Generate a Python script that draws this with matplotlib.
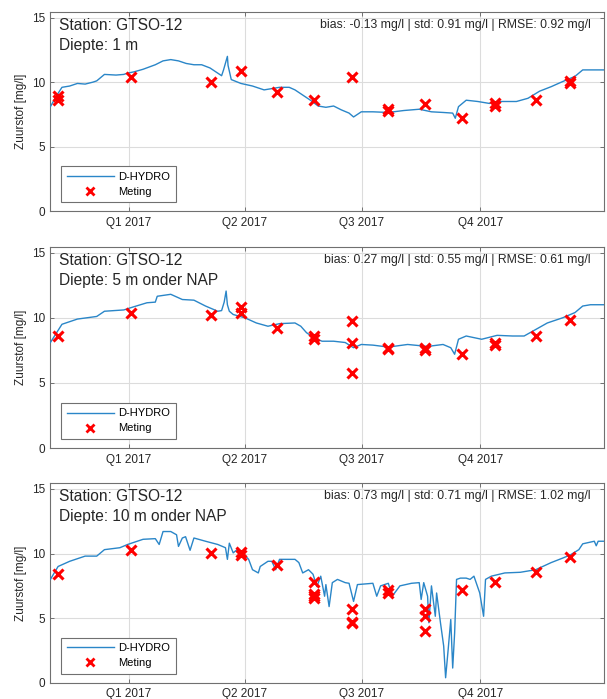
import datetime as dt
import matplotlib
matplotlib.use("Agg")
import matplotlib.pyplot as plt
from matplotlib.lines import Line2D

plt.rcParams['font.family'] = ['Liberation Sans', 'DejaVu Sans']

# ---------------- data ----------------
base_date = "2016-11-01"   # model time axis: days since this date

# Panel 1 (1 m)
days1 = [0, 4.5, 9, 15, 21, 27, 33, 36, 42, 51, 57, 60, 65, 72, 81.5, 87.5, 93.5, 99.5,
         105.5, 111.5, 117.5, 124, 130, 133, 134.5, 137.5, 138, 140.5, 148, 157, 166, 172,
         178, 185.5, 190, 196, 202, 208, 214, 220, 226, 232, 235.5, 241.5, 250.5, 262.5,
         274.5, 286.5, 296, 305, 312.5, 314.5, 317, 323, 332, 341, 347, 353, 362, 371, 380,
         389, 398, 407.5, 413.5, 422.5, 430]
model1 = [8.1, 8.9, 9.6, 9.7, 9.9, 9.85, 10.0, 10.1, 10.6, 10.55, 10.6, 10.7, 10.8, 11.0,
          11.35, 11.65, 11.75, 11.65, 11.45, 11.35, 11.35, 11.1, 10.7, 10.5, 10.95, 12.0,
          11.3, 10.2, 9.9, 9.7, 9.4, 9.5, 9.6, 9.6, 9.4, 9.0, 8.6, 8.15, 8.05, 8.15, 7.85,
          7.6, 7.3, 7.7, 7.7, 7.65, 7.8, 7.9, 7.7, 7.65, 7.6, 7.2, 8.1, 8.6, 8.5, 8.35, 8.5,
          8.5, 8.5, 8.75, 9.3, 9.65, 10.05, 10.45, 10.95, 10.95, 10.95]

# Panel 2 (5 m onder NAP)
days2 = [0, 9, 21, 36, 42, 57, 65, 75, 81.5, 83, 93.5, 102.5, 111.5, 120.5, 130, 133, 135,
         136.5, 137.5, 139, 142, 151, 160, 169, 178, 190, 194.5, 199, 205, 211, 220, 229,
         235.5, 241.5, 250.5, 262.5, 277.5, 293, 305, 311, 314, 317, 323, 335, 347, 359,
         368, 377, 386, 398, 407.5, 413.5, 419.5, 430]
model2 = [8.1, 9.5, 9.9, 10.1, 10.5, 10.6, 10.85, 11.15, 11.2, 11.65, 11.8, 11.4, 11.35,
          10.9, 10.5, 10.55, 11.2, 12.05, 11.0, 10.5, 10.25, 10.0, 9.6, 9.35, 9.55, 9.6,
          9.35, 8.85, 8.45, 8.2, 8.2, 8.1, 7.7, 7.95, 7.9, 7.75, 7.95, 7.8, 7.95, 7.7, 7.2,
          8.35, 8.6, 8.35, 8.65, 8.6, 8.6, 9.1, 9.6, 10.0, 10.4, 10.9, 11.0, 11.0]

# Panel 3 (10 m onder NAP)
days3 = [0, 6, 15, 27, 36, 42, 54, 60, 63, 72, 81.5, 84.5, 87.5, 93.5, 98, 99.5, 102.5,
         105, 108.5, 111.5, 120.5, 130, 136, 137.5, 139, 142, 145, 148, 154, 157, 161.5,
         163, 169, 172, 175, 178, 190, 193, 196, 200.5, 204, 207, 210, 213, 214, 216.5,
         219, 223, 229, 232, 235.5, 238.5, 250.5, 253.5, 256.5, 262.5, 265.5, 271.5, 280.5,
         286.5, 288, 290, 293, 294, 296, 299, 300, 303, 305.5, 307, 309, 311, 312.5, 314,
         315.5, 318.5, 323, 326, 329, 333.5, 336.5, 338, 342.5, 353, 365, 377, 389, 398,
         404, 410.5, 413.5, 422.5, 424, 425.5, 430]
model3 = [8.0, 9.0, 9.4, 9.8, 9.8, 10.3, 10.45, 10.7, 10.8, 11.1, 11.15, 10.7, 11.7, 11.7,
          11.45, 10.55, 11.2, 11.3, 10.25, 11.2, 10.95, 10.7, 10.45, 9.55, 10.8, 10.05,
          10.3, 10.2, 9.55, 8.75, 8.5, 9.0, 9.4, 9.4, 8.75, 9.55, 9.55, 9.3, 8.5, 8.75,
          8.4, 7.45, 8.25, 6.7, 7.6, 5.9, 7.75, 8.0, 7.75, 7.7, 6.3, 7.6, 7.7, 6.7, 7.5,
          7.7, 6.7, 7.5, 7.7, 7.75, 6.45, 7.75, 6.7, 4.65, 7.5, 5.15, 6.95, 4.65, 2.85,
          0.4, 2.6, 4.9, 1.15, 3.85, 8.0, 8.1, 8.1, 8.0, 8.25, 6.95, 5.15, 8.0, 8.25, 8.5,
          8.55, 8.75, 9.3, 9.65, 9.9, 10.3, 10.75, 10.95, 10.6, 10.95, 10.95]

# Measurements (Meting)
meas_dates1 = ["2016-11-07", "2016-11-07", "2017-01-03", "2017-03-06", "2017-03-29",
               "2017-04-26", "2017-05-25", "2017-06-23", "2017-07-21", "2017-07-21",
               "2017-08-19", "2017-09-17", "2017-10-12", "2017-10-12", "2017-11-13",
               "2017-12-10", "2017-12-10"]
meas1 = [8.6, 8.9, 10.4, 10.05, 10.9, 9.2, 8.6, 10.4, 7.8, 7.9, 8.3, 7.25, 8.15, 8.35,
         8.6, 9.9, 10.1]

meas_dates2 = ["2016-11-07", "2017-01-03", "2017-03-06", "2017-03-29", "2017-03-29",
               "2017-04-26", "2017-05-25", "2017-05-25", "2017-06-23", "2017-06-23",
               "2017-06-23", "2017-07-21", "2017-07-21", "2017-08-19", "2017-08-19",
               "2017-09-17", "2017-10-12", "2017-10-12", "2017-11-13", "2017-12-10"]
meas2 = [8.6, 10.35, 10.2, 10.85, 10.4, 9.2, 8.6, 8.35, 9.75, 8.1, 5.75, 7.7, 7.6, 7.7,
         7.55, 7.25, 8.1, 7.9, 8.6, 9.8]

meas_dates3 = ["2016-11-07", "2017-01-03", "2017-03-06", "2017-03-29", "2017-03-29",
               "2017-04-26", "2017-05-25", "2017-05-25", "2017-05-25", "2017-05-25",
               "2017-06-23", "2017-06-23", "2017-06-23", "2017-07-21", "2017-07-21",
               "2017-08-19", "2017-08-19", "2017-08-19", "2017-09-17", "2017-10-12",
               "2017-11-13", "2017-12-10"]
meas3 = [8.4, 10.25, 10.05, 10.1, 9.9, 9.15, 7.8, 6.9, 6.7, 6.55, 5.75, 4.7, 4.6, 7.2,
         6.95, 5.7, 5.2, 4.0, 7.15, 7.8, 8.55, 9.75]

depth_labels = ["Diepte: 1 m", "Diepte: 5 m onder NAP", "Diepte: 10 m onder NAP"]
stats_labels = ["bias: -0.13 mg/l | std: 0.91 mg/l | RMSE: 0.92 mg/l",
                "bias: 0.27 mg/l | std: 0.55 mg/l | RMSE: 0.61 mg/l",
                "bias: 0.73 mg/l | std: 0.71 mg/l | RMSE: 1.02 mg/l"]
station_label = "Station: GTSO-12"
tick_dates = ["2017-01-01", "2017-04-01", "2017-07-01", "2017-10-01"]
tick_labels = ["Q1 2017", "Q2 2017", "Q3 2017", "Q4 2017"]
y_ticks = [0, 5, 10, 15]
ylabel = "Zuurstof [mg/l]"
legend_labels = ["D-HYDRO", "Meting"]
xlim_dates = ["2016-11-01", "2018-01-05"]
ylim = (0, 15.45)

# ---------------- plotting ----------------
def to_dt(s):
    return dt.datetime.strptime(s, "%Y-%m-%d")

b0 = to_dt(base_date)
line_color = "#2a86c8"
grid_color = "#dcdcdc"
edge_color = "#707070"
text_color = "#262626"

fig = plt.figure(figsize=(6.07, 6.99), dpi=100)
positions = [(0.083, 0.698, 0.912, 0.285),
             (0.083, 0.359, 0.912, 0.288),
             (0.083, 0.023, 0.912, 0.286)]

all_days = [days1, days2, days3]
all_model = [model1, model2, model3]
all_mdates = [meas_dates1, meas_dates2, meas_dates3]
all_meas = [meas1, meas2, meas3]

for i in range(3):
    ax = fig.add_axes(positions[i])
    x = [b0 + dt.timedelta(days=d) for d in all_days[i]]
    ax.plot(x, all_model[i], color=line_color, lw=1.0, zorder=3)
    mx = [to_dt(s) for s in all_mdates[i]]
    ax.plot(mx, all_meas[i], linestyle='none', marker='x', color='red',
            markersize=7, markeredgewidth=2.2, zorder=4)

    ax.set_xlim(to_dt(xlim_dates[0]), to_dt(xlim_dates[1]))
    ax.set_ylim(*ylim)
    ax.set_xticks([to_dt(s) for s in tick_dates])
    ax.set_xticklabels(tick_labels)
    ax.set_yticks(y_ticks)
    ax.grid(True, color=grid_color, lw=0.8)
    ax.set_axisbelow(True)
    for sp in ax.spines.values():
        sp.set_color(edge_color)
        sp.set_linewidth(0.8)
    ax.tick_params(direction='in', length=3, width=0.7, color=edge_color,
                   labelsize=8.5, labelcolor=text_color, top=True, right=True, pad=4)
    ax.set_ylabel(ylabel, fontsize=8.5, color=text_color, labelpad=3)

    ax.text(0.016, 0.908, station_label, transform=ax.transAxes, fontsize=11.2,
            color=text_color, va='baseline', ha='left')
    ax.text(0.016, 0.808, depth_labels[i], transform=ax.transAxes, fontsize=11.2,
            color=text_color, va='baseline', ha='left')
    ax.text(0.9765, 0.918, stats_labels[i], transform=ax.transAxes, fontsize=8.8,
            color=text_color, va='baseline', ha='right')

    handles = [Line2D([], [], color=line_color, lw=1.0),
               Line2D([], [], linestyle='none', marker='x', color='red',
                      markersize=5.5, markeredgewidth=2.0)]
    leg = ax.legend(handles, legend_labels, loc='lower left',
                    bbox_to_anchor=(0.02, 0.045), fontsize=8, handlelength=4.2,
                    fancybox=False, framealpha=1, edgecolor=edge_color,
                    borderpad=0.5, labelspacing=0.45, handletextpad=0.4,
                    borderaxespad=0.0)
    leg.get_frame().set_linewidth(0.8)

fig.savefig("out.png", dpi=100)
